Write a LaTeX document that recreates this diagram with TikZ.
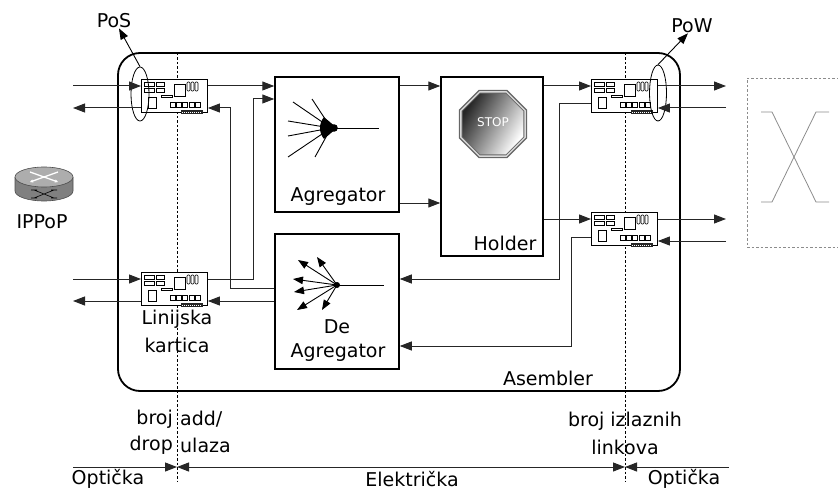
\documentclass[tikz,border=0pt]{standalone}
\usepackage{fontspec}
\setmainfont{DejaVu Sans}
\usetikzlibrary{arrows.meta,shapes.geometric}

\tikzset{
  cardparts/.pic={
    \begin{scope}[line width=0.6pt]
      \draw (3,3) rectangle (13,7) (15,3) rectangle (23,7)
            (3,9) rectangle (13,13) (15,9) rectangle (23,13);
      \draw (20,16) rectangle (31,18);
      \draw (33,5) rectangle (44,17);
      \foreach \i in {0,1,2}
        \draw[rounded corners=1pt] ({46+4*\i},3) rectangle ({49+4*\i},12);
      \draw (7,18) rectangle (15,29);
      \foreach \i in {0,...,4}
        \draw ({29+6.3*\i},23) rectangle ({34+6.3*\i},28);
      \fill[black!85] (40,31) rectangle (62,35);
      \draw[white, line width=0.7pt, dash pattern=on 1pt off 1pt] (41,33) -- (61,33);
    \end{scope}
  }
}

\begin{document}
\begin{tikzpicture}[x=1pt,y=-1pt,
  lbl/.style={inner sep=0pt, font=\fontsize{19}{22}\selectfont},
  blk/.style={draw, line width=1.5pt, inner sep=0pt},
  card/.style={draw, line width=0.9pt, fill=white, minimum width=66pt,
               minimum height=33pt, inner sep=0pt, anchor=north west},
  wire/.style={line width=1pt, draw=black!85},
  tip/.tip={Triangle[length=12pt,width=9pt]},
  arr/.style={wire, -tip},
  fanarr/.style={line width=0.9pt, -{Triangle[length=10pt,width=7.5pt]}},
  sep/.style={line width=0.7pt, dash pattern=on 2.5pt off 2pt},
  oct/.style={regular polygon, regular polygon sides=8, inner sep=0pt},
  port/.style={ellipse, draw, line width=0.8pt, inner sep=0pt}
]
\useasboundingbox (0,0) rectangle (838,492);
\clip (0,0) rectangle (838,492);

% assembler frame
\node[draw, line width=1.8pt, rounded corners=22pt, minimum width=562pt,
      minimum height=338pt, inner sep=0pt] (asm) at (399,222) {};
\node[lbl] (asml) at (548,378) {Asembler};

% optical / electrical boundaries
\coordinate (sepLt) at (177,53);  \coordinate (sepLb) at (177,481);
\coordinate (sepRt) at (625,53);  \coordinate (sepRb) at (625,481);
\draw[sep] (sepLt) -- (sepLb);
\draw[sep] (sepRt) -- (sepRb);

% line cards
\node[card] (cTL) at (141,79) {};
\node[card] (cBL) at (141,272) {};
\node[card] (cTR) at (591,79) {};
\node[card] (cBR) at (591,212) {};
\pic at (cTL.north west) {cardparts};
\pic at (cBL.north west) {cardparts};
\pic at (cTR.north west) {cardparts};
\pic at (cBR.north west) {cardparts};

% functional blocks
\node[blk, minimum width=124pt, minimum height=135pt] (agg) at (337,144.5) {};
\node[blk, minimum width=102pt, minimum height=179pt] (hold) at (492,166.5) {};
\node[blk, minimum width=124pt, minimum height=135pt] (dea) at (337,301.5) {};
\node[lbl] (aggl) at (338,197) {Agregator};
\node[lbl] (holdl) at (505,243) {Holder};
\node[lbl] (deal1) at (337,327) {De};
\node[lbl] (deal2) at (338,353) {Agregator};

% aggregator symbol
\coordinate (aggc) at (331,128);
\foreach \p in {(293,102),(312,99),(288,121),(288,136),(288,157),(315,157)}
  \draw[line width=0.9pt] \p -- (aggc);
\draw[line width=0.9pt] (aggc) -- (379,128);
\fill (337,128) -- ++(140:17) arc[start angle=140, end angle=220, radius=17] -- cycle;
\fill (334,128) circle[radius=3.8];

% de-aggregator symbol
\coordinate (deac) at (337,285);
\draw[line width=0.9pt] (deac) -- (384,285);
\foreach \p in {(298,260),(317,257),(293,279),(294,292),(297,310),(322,310)}
  \draw[fanarr] (deac) -- \p;
\fill (deac) circle[radius=3];

% stop sign
\node[oct, minimum size=74pt, fill=black!60] (stop) at (493,124) {};
\node[oct, minimum size=71pt, fill=black!15] (stop2) at (493,124) {};
\node[oct, minimum size=68pt, fill=black!60] (stop3) at (493,124) {};
\node[oct, minimum size=66pt, top color=black!85, bottom color=white,
      shading angle=60] (stop4) at (493,124) {};
\node[inner sep=0pt, text=white, font=\fontsize{12}{14}\selectfont] (stopl) at (493,122) {STOP};

% PoS / PoW ports
\node[port, minimum width=18pt, minimum height=54pt] (posE) at (140,94) {};
\node[port, minimum width=17pt, minimum height=56pt] (powE) at (658,93) {};
\node[lbl] (posl) at (114,21) {PoS};
\node[lbl] (powl) at (692,26) {PoW};
\draw[line width=0.9pt, -{Triangle[length=11pt,width=8pt]}] (posE.north) -- ([xshift=5pt]posl.south);
\draw[line width=0.9pt, -{Triangle[length=11pt,width=8pt]}] (powE.north) -- ([xshift=-4pt]powl.south);

% free ends and bends
\coordinate (lTLi) at (73,86);   \coordinate (lTLo) at (73,108);
\coordinate (lBLi) at (73,279);  \coordinate (lBLo) at (73,301);
\coordinate (rTRo) at (726,86);  \coordinate (rTRi) at (726,108);
\coordinate (rBRo) at (726,219); \coordinate (rBRi) at (726,241);
\coordinate (bA) at (253,99);
\coordinate (bB) at (230,288);   \coordinate (bB2) at (230,108);
\coordinate (yAg) at (420,203);
\coordinate (bC) at (559,104);   \coordinate (bC2) at (559,279);
\coordinate (bD) at (571,237);   \coordinate (bD2) at (571,346);

% optical side, left
\draw[arr] (lTLi) -- (cTL.west |- lTLi);
\draw[arr] (cTL.west |- lTLo) -- (lTLo);
\draw[arr] (lBLi) -- (cBL.west |- lBLi);
\draw[arr] (cBL.west |- lBLo) -- (lBLo);

% electrical side
\draw[arr] (cTL.east |- lTLi) -- (agg.west |- lTLi);
\draw[arr] (cBL.east |- lBLi) -| (bA) -- (agg.west |- bA);
\draw[arr] (dea.west |- bB) -- (bB) -- (bB2) -- (cTL.east |- bB2);
\draw[arr] (dea.west |- lBLo) -- (cBL.east |- lBLo);
\draw[arr] (agg.east |- lTLi) -- (hold.west |- lTLi);
\draw[arr] (agg.east |- yAg) -- (hold.west |- yAg);
\draw[arr] (hold.east |- rTRo) -- (cTR.west |- rTRo);
\draw[arr] (hold.east |- rBRo) -- (cBR.west |- rBRo);
\draw[arr] (cTR.west |- bC) -- (bC) -- (bC2) -- (dea.east |- bC2);
\draw[arr] (cBR.west |- bD) -- (bD) -- (bD2) -- (dea.east |- bD2);

% optical side, right
\draw[arr] (cTR.east |- rTRo) -- (rTRo);
\draw[arr] (rTRi) -- (cTR.east |- rTRi);
\draw[arr] (cBR.east |- rBRo) -- (rBRo);
\draw[arr] (rBRi) -- (cBR.east |- rBRi);

% optical cross-connect
\node[draw=black!45, line width=0.8pt, dash pattern=on 2.5pt off 2pt,
      minimum width=110pt, minimum height=169pt, inner sep=0pt] (oxc) at (802,162.5) {};
\draw[black!45, line width=0.8pt] (761,112) -- (772,112) -- (816,202) -- (829,202);
\draw[black!45, line width=0.8pt] (829,112) -- (816,112) -- (772,202) -- (761,202);

% IP point of presence router
\begin{scope}
  \fill[black!50] (15,177) -- (15,191) arc[start angle=180, end angle=0, x radius=29, y radius=10] -- (73,177) -- cycle;
  \draw[black!70, line width=0.6pt] (15,177) -- (15,191) arc[start angle=180, end angle=0, x radius=29, y radius=10] -- (73,177);
  \fill[black!32] (44,177) ellipse[x radius=29, y radius=10];
  \draw[black!70, line width=0.6pt] (44,177) ellipse[x radius=29, y radius=10];
  \draw[white, line width=1.3pt, -{Triangle[length=3pt,width=3pt]}] (30,172) -- (58,182);
  \draw[white, line width=1.3pt, -{Triangle[length=3pt,width=3pt]}] (58,172) -- (30,182);
  \draw[black, line width=0.6pt] (34,190) -- (54,198) (34,198) -- (54,190)
        (31,190) -- (37,190) (51,190) -- (57,190) (31,198) -- (37,198) (51,198) -- (57,198);
\end{scope}
\node[lbl] (ipl) at (42,222) {IPPoP};

% line card caption
\node[lbl] (lk1) at (177,319) {Linijska};
\node[lbl] (lk2) at (177,345) {kartica};

% boundary captions
\node[lbl, anchor=east] (b1) at (173,419) {broj};
\node[lbl, anchor=west] (b2) at (180,419) {add/};
\node[lbl, anchor=east] (b3) at (173,445) {drop};
\node[lbl, anchor=west] (b4) at (180,445) {ulaza};
\node[lbl] (b5) at (625,421) {broj izlaznih};
\node[lbl] (b6) at (625,447) {linkova};

% domain extents
\coordinate (dimL) at (73,467);  \coordinate (dimA) at (177,467);
\coordinate (dimB) at (625,467); \coordinate (dimR) at (729,467);
\draw[wire, -tip] (dimL) -- (dimA);
\draw[wire, tip-tip] (dimA) -- (dimB);
\draw[wire, tip-] (dimB) -- (dimR);
\node[lbl] (d1) at (108,479) {Optička};
\node[lbl] (d2) at (412,479) {Električka};
\node[lbl] (d3) at (684,479) {Optička};
\end{tikzpicture}
\end{document}
